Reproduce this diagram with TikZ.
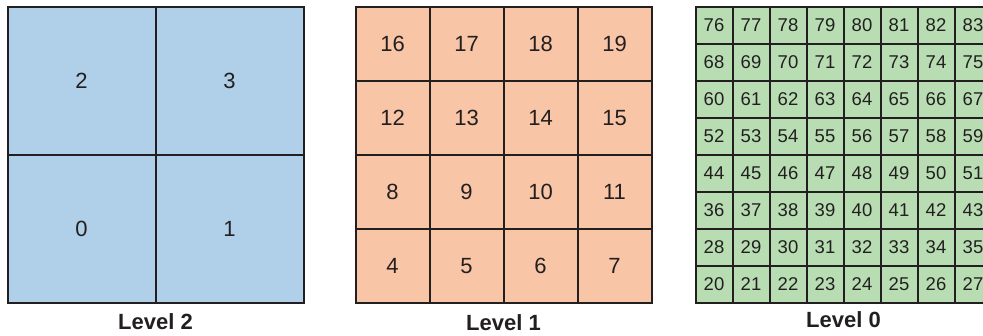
\documentclass[tikz,border=0pt]{standalone}
\usepackage{fontspec}
\setmainfont{Liberation Sans}
\definecolor{cblue}{RGB}{175,208,232}
\definecolor{corange}{RGB}{248,198,166}
\definecolor{cgreen}{RGB}{184,221,179}
\definecolor{cline}{RGB}{35,31,32}
\begin{document}
\begin{tikzpicture}[x=1pt,y=-1pt,
  cellbox/.style={draw=cline, line width=2pt, inner sep=0pt, text=cline,
    minimum width=#1, minimum height=#1},
  lvlabel/.style={font=\fontsize{22}{26}\selectfont\bfseries, text=cline, inner sep=0pt}]
\useasboundingbox (0,0) rectangle (983,336);
\clip (0,0) rectangle (983,336);
% Level 2
\foreach \r in {0,1}{
  \foreach \c in {0,1}{
    \pgfmathtruncatemacro{\n}{2*\r+\c}
    \node[cellbox=148pt, fill=cblue, font=\fontsize{22}{26}\selectfont]
      (a\n) at ({7.5+148*(\c+0.5)},{6.7+148*(1-\r+0.5)}) {\n};
  }}
\node[lvlabel] (la) at (155.5,322) {Level 2};
% Level 1
\foreach \r in {0,...,3}{
  \foreach \c in {0,...,3}{
    \pgfmathtruncatemacro{\n}{4+4*\r+\c}
    \node[cellbox=74pt, fill=corange, font=\fontsize{22}{26}\selectfont]
      (b\n) at ({355.5+74*(\c+0.5)},{6.7+74*(3-\r+0.5)}) {\n};
  }}
\node[lvlabel] (lb) at (503.5,323) {Level 1};
% Level 0
\foreach \r in {0,...,7}{
  \foreach \c in {0,...,7}{
    \pgfmathtruncatemacro{\n}{20+8*\r+\c}
    \node[cellbox=37pt, fill=cgreen, font=\fontsize{18.5}{22}\selectfont]
      (c\n) at ({695.5+37*(\c+0.5)},{6.7+37*(7-\r+0.5)}) {\n};
  }}
\node[lvlabel] (lc) at (843.5,320) {Level 0};
\end{tikzpicture}
\end{document}
